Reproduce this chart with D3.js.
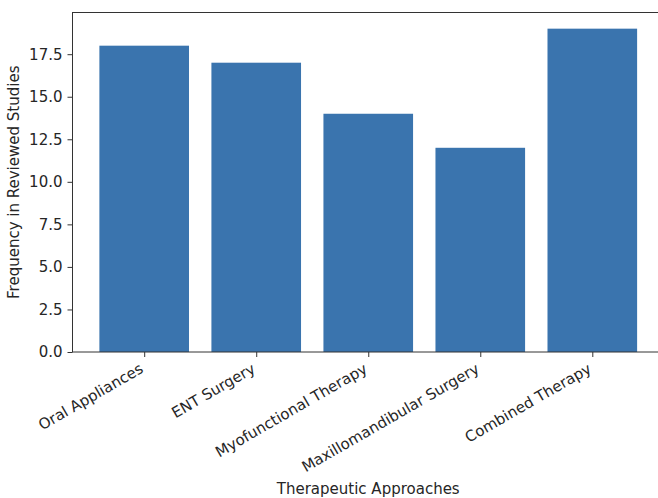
<!DOCTYPE html>
<html><head><meta charset="utf-8">
<script src="https://cdn.jsdelivr.net/npm/d3@7"></script>
<style>body{margin:0;background:#fff}svg{display:block}text{font-family:"DejaVu Sans",sans-serif;fill:#262626}</style>
</head><body><svg id="c" width="658" height="498"></svg>
<script>
const categories = ["Oral Appliances","ENT Surgery","Myofunctional Therapy","Maxillomandibular Surgery","Combined Therapy"];
const values = [18,17,14,12,19];
const yTicks = [0,2.5,5,7.5,10,12.5,15,17.5];
const xLabel = "Therapeutic Approaches";
const yLabel = "Frequency in Reviewed Studies";

const svg = d3.select("#c");
const L = 72.5, T = 12.5, B = 352, R = 664;
const x = d3.scaleLinear().domain([-0.64, 4.64]).range([L, R]);
const y = d3.scaleLinear().domain([0, 19.95]).range([B, T]);
const bw = x(0.8) - x(0);

svg.append("g").selectAll("rect").data(values).join("rect")
  .attr("x",(d,i)=>x(i-0.4)).attr("width",bw)
  .attr("y",d=>y(d)).attr("height",d=>B-y(d))
  .attr("fill","#3a74ae");

const fs = 15;
const ya = svg.append("g").attr("transform",`translate(${L},0)`)
  .call(d3.axisLeft(y).tickValues(yTicks).tickFormat(d3.format(".1f")).tickSize(5).tickPadding(5));
const xa = svg.append("g").attr("transform",`translate(0,${B})`)
  .call(d3.axisBottom(x).tickValues(d3.range(categories.length)).tickFormat(i=>categories[i]).tickSize(5).tickPadding(5));
[ya,xa].forEach(a=>{a.select(".domain").remove();a.selectAll("line").attr("stroke","#333");a.selectAll("text").style("font-size",fs+"px").attr("fill","#262626");});
xa.selectAll("text").attr("text-anchor","end").attr("dy",null).attr("dominant-baseline","hanging")
  .attr("transform",function(){const yy=+d3.select(this).attr("y");return `translate(${-fs*0.4},${yy}) rotate(-30)`;}).attr("y",0);

// spines
svg.append("rect").attr("x",L).attr("y",T).attr("width",R-L).attr("height",B-T).attr("fill","none").attr("stroke","#333").attr("stroke-width",1);

svg.append("text").attr("x",(L+R)/2).attr("y",494).attr("text-anchor","middle").style("font-size",fs+"px").text(xLabel);
svg.append("text").attr("transform",`translate(19,${(T+B)/2}) rotate(-90)`).attr("text-anchor","middle").style("font-size",fs+"px").text(yLabel);
</script></body></html>
